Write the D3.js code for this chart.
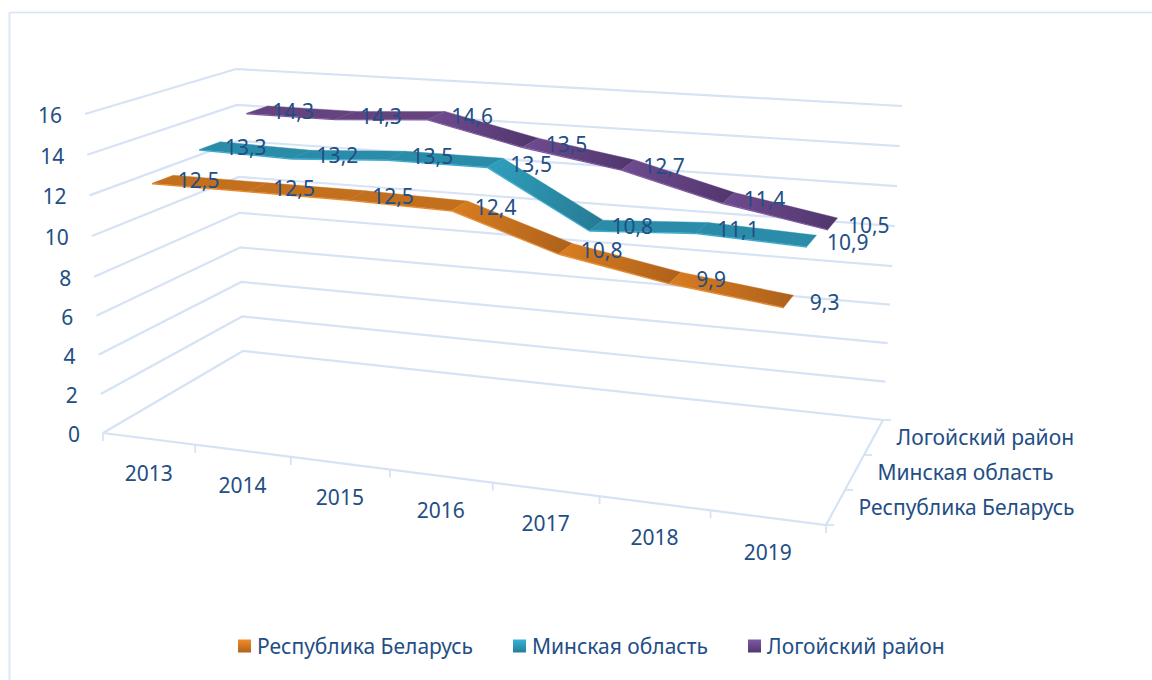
<!DOCTYPE html>
<html><head><meta charset="utf-8">
<script src="https://cdn.jsdelivr.net/npm/d3@7"></script>
<style>html,body{margin:0;padding:0;background:#fff}svg{display:block}text{font-family:"Noto Sans",sans-serif;fill:#234E85}</style>
</head><body><div id="c"></div>
<script>
const years = ["2013","2014","2015","2016","2017","2018","2019"];
const seriesNames = ["Республика Беларусь","Минская область","Логойский район"];
const belarus = [12.5,12.5,12.5,12.4,10.8,9.9,9.3];
const minsk = [13.3,13.2,13.5,13.5,10.8,11.1,10.9];
const logoysk = [14.3,14.3,14.6,13.5,12.7,11.4,10.5];
const valueTicks = [0,2,4,6,8,10,12,14,16];
const seriesValues = [belarus,minsk,logoysk];

const W=1152,H=680;
const svg=d3.select("#c").append("svg").attr("width",W).attr("height",H);
const defs=svg.append("defs");
const fmt=d3.formatLocale({decimal:",",thousands:" ",grouping:[3],currency:["",""]}).format(".1f");

// Box corners of the 3D plot
const corners={fl0:[103,433],fl1:[85,114],fr0:[826,525],fr1:[845,170],bl0:[243,351],bl1:[236,69],br0:[883,420],br1:[902,106]};
const persp=1.14;
const catScale=d3.scaleLinear().domain([0,years.length]).range([0,1]);
const uOf=c=>{const t=catScale(c);return t/(t+(1-t)*persp);};
const vScale=d3.scaleLinear().domain([0,8,16]).range([0,.49,1]);
const zAxis=d3.scalePoint().domain(seriesNames).range([1/6,5/6]);
const zScale=d3.scalePoint().domain(seriesNames).range([.183,.85]);
const mix=(a,b,t)=>[a[0]+(b[0]-a[0])*t,a[1]+(b[1]-a[1])*t];
function project(c,val,z){
  const u=uOf(c),v=vScale(val);
  const f=mix(mix(corners.fl0,corners.fl1,v),mix(corners.fr0,corners.fr1,v),u);
  const b=mix(mix(corners.bl0,corners.bl1,v),mix(corners.br0,corners.br1,v),u);
  return mix(f,b,z);
}
const n=years.length;
const path=d3.line();
const closed=d3.line().curve(d3.curveLinearClosed);
const gridC="#D6E3F5";

// frame
const frame=svg.append("g").attr("fill","none");
frame.append("path").attr("stroke","#DFE8F8").attr("stroke-width",2.2).attr("d",path([[9.5,680],[9.5,12.5]]));
frame.append("path").attr("stroke","#D3E3F3").attr("stroke-width",1.5).attr("d",path([[9.5,12.5],[1152,12.5]]));

// gridlines
const grid=svg.append("g").attr("fill","none").attr("stroke",gridC).attr("stroke-width",2.2);
grid.selectAll("path").data(valueTicks).join("path")
  .attr("d",d=>path([project(0,d,0),project(0,d,1),project(n,d,1)]));
// floor axes
grid.append("path").attr("d",path([project(0,0,0),project(n,0,0),project(n,0,1)]));
grid.selectAll("path.xt").data(d3.range(n+1)).join("path").attr("class","xt").attr("stroke-width",1.8)
  .attr("d",i=>{const p=project(i,0,0);return path([p,[p[0],p[1]+8]]);});
grid.selectAll("path.zt").data(d3.range(4)).join("path").attr("class","zt").attr("stroke-width",1.8)
  .attr("d",i=>{const p=project(n,0,i/3);return path([p,[p[0]+8,p[1]]]);});

// ribbons
const half=.074, thick=.06;
const palette=[
 {light:"#D67C20",mid:"#C3701E",dark:"#B0621B",edge:"#F28C2C"},
 {light:"#2F9DBB",mid:"#2A8CA8",dark:"#277C95",edge:"#36B4D8"},
 {light:"#6E4A8E",mid:"#64437F",dark:"#52376E",edge:"#7F58A6"}];
const ribbons=svg.append("g");
d3.range(seriesNames.length).reverse().forEach(si=>{
  const vals=seriesValues[si],z=zScale(seriesNames[si]),c=palette[si];
  const g=ribbons.append("g");
  d3.pairs(d3.range(n)).forEach(([a,b])=>{
    const id="g"+si+"_"+a;
    const pa=project(a+.5,vals[a],z),pb=project(b+.5,vals[b],z);
    const grad=defs.append("linearGradient").attr("id",id).attr("gradientUnits","userSpaceOnUse")
      .attr("x1",pa[0]).attr("y1",pa[1]).attr("x2",pb[0]).attr("y2",pb[1]);
    const steep=Math.abs(vals[b]-vals[a])>.5;
    grad.append("stop").attr("offset",0).attr("stop-color",steep?c.light:c.mid);
    grad.append("stop").attr("offset",1).attr("stop-color",steep?c.dark:c.mid);
    g.append("path").attr("fill",c.edge).attr("d",closed([
      project(a+.5,vals[a],z-half),project(b+.5,vals[b],z-half),
      project(b+.5,vals[b]-thick,z-half),project(a+.5,vals[a]-thick,z-half)]));
    g.append("path").attr("fill",`url(#${id})`).attr("stroke",`url(#${id})`).attr("stroke-width",.4).attr("d",closed([
      project(a+.5,vals[a],z-half),project(b+.5,vals[b],z-half),
      project(b+.5,vals[b],z+half),project(a+.5,vals[a],z+half)]));
  });
});

const FS=21;
// data labels
const labels=svg.append("g").attr("font-size",FS).attr("text-anchor","middle").attr("dominant-baseline","central");
seriesNames.forEach((s,si)=>{
  labels.append("g").selectAll("text").data(seriesValues[si]).join("text")
    .attr("x",(d,i)=>project(i+.5,d,zScale(s))[0]+36)
    .attr("y",(d,i)=>project(i+.5,d,zScale(s))[1]+1)
    .text(d=>fmt(d));
});
// value axis labels
svg.append("g").attr("font-size",FS).attr("text-anchor","end").attr("dominant-baseline","central")
  .selectAll("text").data(valueTicks).join("text")
  .attr("x",d=>project(0,d,0)[0]-23).attr("y",d=>project(0,d,0)[1]+1).text(d=>d);
// category labels
svg.append("g").attr("font-size",FS).attr("text-anchor","middle").attr("dominant-baseline","central")
  .selectAll("text").data(years).join("text")
  .attr("x",(d,i)=>project(i+.5,0,0)[0]).attr("y",(d,i)=>project(i+.5,0,0)[1]+34).text(d=>d);
// depth labels
svg.append("g").attr("font-size",FS).attr("dominant-baseline","central")
  .selectAll("text").data(seriesNames).join("text")
  .attr("x",d=>project(n,0,zAxis(d))[0]+23).attr("y",d=>project(n,0,zAxis(d))[1]-1).text(d=>d);
// legend
const legendX=d3.scaleOrdinal().domain(seriesNames).range([238,513,748]);
const lg=svg.append("g").selectAll("g").data(seriesNames).join("g").attr("transform",d=>`translate(${legendX(d)},646)`);
seriesNames.forEach((s,i)=>{
  const g=defs.append("linearGradient").attr("id","lg"+i).attr("x1",0).attr("y1",0).attr("x2",0).attr("y2",1);
  g.append("stop").attr("offset",0).attr("stop-color",palette[i].edge);
  g.append("stop").attr("offset",1).attr("stop-color",palette[i].dark);
});
lg.append("rect").attr("x",0).attr("y",-6.5).attr("width",13).attr("height",13).attr("fill",(d,i)=>`url(#lg${i})`);
lg.append("text").attr("x",19).attr("font-size",FS).attr("dominant-baseline","central").text(d=>d);
</script></body></html>
